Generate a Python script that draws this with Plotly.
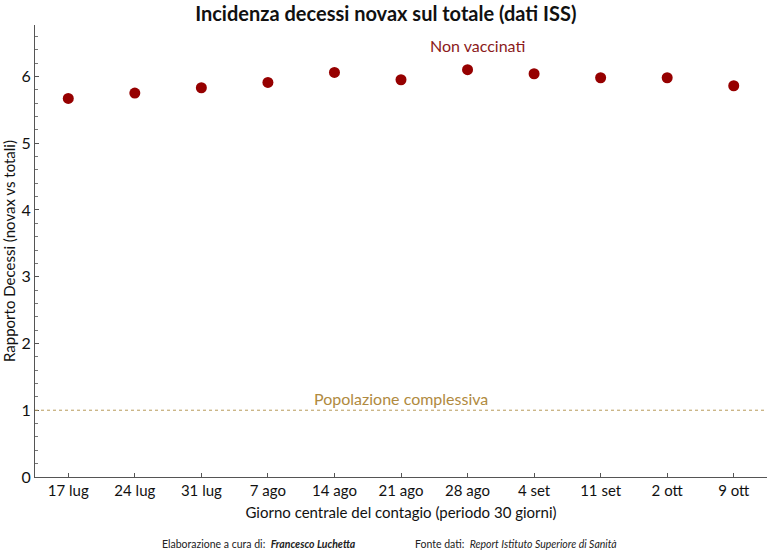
import plotly.graph_objects as go

dates = ["17 lug", "24 lug", "31 lug", "7 ago", "14 ago", "21 ago", "28 ago", "4 set", "11 set", "2 ott", "9 ott"]
ratio_novax = [5.67, 5.75, 5.83, 5.91, 6.06, 5.95, 6.10, 6.04, 5.98, 5.98, 5.86]
baseline = 1.0

FONT = "Lato"

fig = go.Figure()
fig.add_trace(go.Scatter(
    x=dates, y=ratio_novax, mode="markers",
    marker=dict(size=11, color="#960000"),
    showlegend=False, cliponaxis=False,
))

fig.add_shape(type="line", xref="paper", yref="y", x0=0, x1=1, y0=baseline, y1=baseline,
              line=dict(color="#b89a5a", width=1, dash="dot"))

fig.add_annotation(text="Non vaccinati", x=0.604, xref="paper", y=6.46, yref="y",
                   showarrow=False, font=dict(family=FONT, size=16, color="#8b1a1a"))
fig.add_annotation(text="Popolazione complessiva", x=0.5, xref="paper", y=1.17, yref="y",
                   showarrow=False, font=dict(family=FONT, size=16, color="#b08a40"))

fig.add_annotation(text="Elaborazione a cura di:  <b><i>Francesco Luchetta</i></b>",
                   x=(160 - 35) / 732, xref="paper", xanchor="left",
                   y=-(545 - 477.5) / 452.5, yref="paper", yanchor="middle",
                   showarrow=False, font=dict(family=FONT, size=10.5, color="#222222"))
fig.add_annotation(text="Fonte dati:  <i>Report Istituto Superiore di Sanità</i>",
                   x=(413 - 35) / 732, xref="paper", xanchor="left",
                   y=-(545 - 477.5) / 452.5, yref="paper", yanchor="middle",
                   showarrow=False, font=dict(family=FONT, size=10.5, color="#222222"))

fig.update_layout(
    width=767, height=552,
    margin=dict(l=35, r=0, t=25, b=74.5),
    paper_bgcolor="white", plot_bgcolor="white",
    title=dict(text="<b>Incidenza decessi novax sul totale (dati ISS)</b>",
               x=0.503, xanchor="center", y=0.975, yanchor="middle",
               font=dict(family=FONT, size=20, color="#111111")),
    font=dict(family=FONT, color="#111111"),
)
fig.update_xaxes(
    type="category", range=[-0.5, 10.5],
    showline=True, linecolor="#555555", linewidth=1,
    ticks="inside", ticklen=4, tickcolor="#555555",
    showgrid=False, zeroline=False,
    tickfont=dict(size=15, family=FONT),
    title=dict(text="Giorno centrale del contagio (periodo 30 giorni)", font=dict(size=15, family=FONT), standoff=9),
)
fig.update_yaxes(
    range=[0, 6.77], dtick=1, tick0=0,
    showline=True, linecolor="#555555", linewidth=1,
    ticks="inside", ticklen=4, tickcolor="#555555",
    minor=dict(dtick=0.2, ticks="inside", ticklen=3, tickcolor="#777777"),
    showgrid=False, zeroline=False,
    tickfont=dict(size=16, family=FONT),
    title=dict(text="Rapporto Decessi (novax vs totali)", font=dict(size=15, family=FONT), standoff=8),
)

fig.write_html("out.html")
